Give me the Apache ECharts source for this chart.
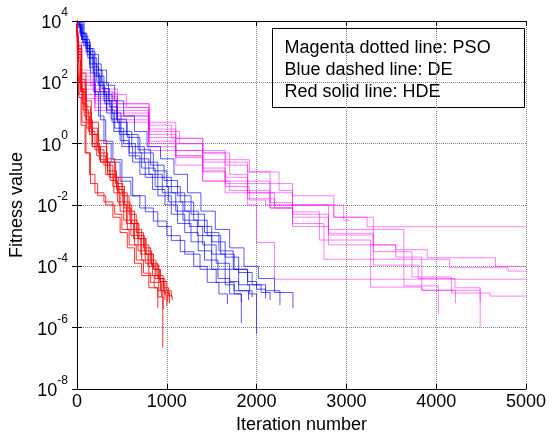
<!DOCTYPE html>
<html>
<head>
<meta charset="utf-8">
<script src="https://cdn.jsdelivr.net/npm/echarts@6/dist/echarts.min.js"></script>
<style>html,body{margin:0;padding:0;background:#fff;}#c{width:549px;height:439px;}</style>
</head>
<body>
<div id="c"></div>
<script>
// x ticks
var xTicks = [0, 1000, 2000, 3000, 4000, 5000];
// y ticks (powers of ten shown)
var yTicks = [1e-8, 1e-6, 1e-4, 1e-2, 1e0, 1e2, 1e4];
var legendLines = ['Magenta dotted line: PSO', 'Blue dashed line: DE', 'Red solid line: HDE'];

// PSO runs: [iteration, best fitness]
var psoRuns = [
  [[0,5e3],[15,6e2],[50,2e2],[150,80],[300,40],[550,15],[800,4],[1050,1.5],[1400,0.5],[1650,0.25],[1900,0.12],[2150,0.05],[2400,0.02],[2860,4e-3],[3230,1.95e-3],[5000,1.95e-3]],
  [[0,6e3],[12,8e2],[50,1.6e2],[180,50],[400,20],[810,2.5],[1140,1],[1400,0.5],[1700,0.3],[1920,0.12],[2250,0.03],[2400,0.01],[2970,3.2e-3],[3030,3e-3]],
  [[0,8e3],[10,1.5e3],[50,1e2],[200,30],[450,10],[800,1],[1100,0.6],[1400,0.3],[1700,0.1],[1900,0.05],[2150,0.008],[2400,2e-3],[2800,5e-4],[3550,3.5e-4],[3900,1.9e-4],[4660,1e-4],[5000,1e-4]],
  [[0,9e3],[15,1e3],[50,60],[200,20],[450,8],[800,1.6],[1100,0.4],[1400,0.13],[1650,0.05],[1900,0.025],[2150,0.008],[2400,2.5e-3],[2750,1.7e-4],[4150,9e-5],[4800,7e-5],[5000,7e-5]],
  [[0,7e3],[10,1.2e3],[50,30],[200,12],[450,5],[800,0.6],[1100,0.2],[1400,0.06],[1650,0.025],[1900,0.01],[2000,6e-4],[2200,3.8e-5],[5000,3.8e-5]],
  [[0,6e3],[12,1.2e3],[50,1e2],[200,35],[450,12],[800,2],[1100,0.6],[1400,0.06],[1700,0.03],[1900,0.016],[2200,8e-3],[2400,4e-3],[2800,1.2e-3],[3300,3e-4],[3730,4.5e-5],[4170,1.35e-5],[4600,1.07e-5],[5000,1.07e-5]],
  [[0,5e3],[20,7e2],[50,40],[200,15],[450,6],[800,0.8],[1100,0.35],[1400,0.16],[1650,0.06],[1900,0.025],[2200,0.01],[2400,5e-3],[2800,1.6e-3],[3640,2.3e-5],[4025,2.75e-6]],
  [[0,7e3],[18,1.2e3],[50,1.2e2],[200,45],[450,15],[800,3],[1100,1],[1400,0.25],[1650,0.08],[1900,0.03],[2150,0.012],[2400,6e-3],[2700,7.2e-4],[3270,2.1e-5],[3840,1.66e-5],[4215,6.3e-6]],
  [[0,8e3],[10,2e3],[50,2.5e2],[200,60],[450,20],[800,5],[1100,1.5],[1400,0.6],[1650,0.2],[1900,0.06],[2150,0.025],[2400,0.01],[2860,4e-3],[3300,5e-4],[3550,2e-4],[3840,1.66e-5],[4490,1e-6]],
  [[0,6e3],[20,1e3],[50,80],[200,25],[450,8],[800,1.2],[1100,0.4],[1400,0.12],[1650,0.04],[1920,0.0145],[2100,0.01],[2800,1.05e-3],[3300,1.1e-4],[3800,4e-5],[4210,2e-5],[4490,6.8e-6]]
];

// DE runs
var deRuns = [
  [[0,7.9e3],[40,4e3],[90,1.6e3],[140,300],[190,50],[240,8],[300,1],[380,0.25],[480,0.06],[600,0.02],[700,8e-3],[850,3e-3],[1000,1e-3],[1150,3e-4],[1300,1e-4],[1450,3e-5],[1580,1.26e-5],[1675,5.9e-6]],
  [[0,6.3e3],[60,2e3],[120,630],[190,160],[260,40],[330,10],[410,2.5],[500,0.8],[620,0.25],[760,0.08],[900,0.02],[1050,5e-3],[1200,1.26e-3],[1350,3.2e-4],[1500,8e-5],[1650,2.5e-5],[1750,1.26e-5],[1830,1.4e-6]],
  [[0,8.9e3],[30,4e3],[100,1.26e3],[170,320],[240,80],[310,20],[390,5],[480,1.26],[580,0.4],[700,0.1],[840,0.032],[980,0.01],[1120,2.5e-3],[1270,6.3e-4],[1420,1.6e-4],[1570,4e-5],[1700,1.26e-5],[1830,6.9e-6]],
  [[0,7e3],[50,2.5e3],[110,800],[180,200],[250,50],[330,12.6],[420,3.2],[520,1],[650,0.32],[800,0.1],[950,0.025],[1100,6.3e-3],[1250,2e-3],[1400,5e-4],[1550,1.26e-4],[1700,3.2e-5],[1800,1.6e-5],[1910,7.9e-6]],
  [[0,7.9e3],[70,1.6e3],[140,400],[220,100],[300,25],[380,6.3],[470,2],[580,0.5],[720,0.16],[870,0.04],[1020,0.0126],[1180,3.2e-3],[1340,1e-3],[1500,2.5e-4],[1650,8e-5],[1800,2.5e-5],[1920,1.26e-5],[2000,6.3e-7]],
  [[0,6.3e3],[40,3.2e3],[120,1e3],[200,250],[280,63],[360,16],[450,5],[560,1.6],[700,0.5],[850,0.13],[1000,0.04],[1150,0.0126],[1300,3.2e-3],[1450,1e-3],[1600,2.5e-4],[1750,8e-5],[1900,2.5e-5],[2050,1.4e-5],[2150,7.9e-6]],
  [[0,7.9e3],[60,2.5e3],[140,630],[220,160],[300,40],[390,10],[490,2.5],[610,0.8],[750,0.25],[900,0.08],[1050,0.025],[1200,6.3e-3],[1350,2e-3],[1500,6.3e-4],[1650,2e-4],[1800,6.3e-5],[1950,2.5e-5],[2100,1.6e-5],[2260,5.4e-6]],
  [[0,8.9e3],[80,2e3],[150,800],[240,250],[330,80],[420,25],[520,8],[640,2.5],[780,0.8],[930,0.32],[1080,0.1],[1230,0.025],[1380,6.3e-3],[1540,1.6e-3],[1700,4e-4],[1860,1e-4],[2020,4e-5],[2200,1.4e-5],[2405,4.3e-6]],
  [[0,7e3],[50,2.5e3],[100,1e3],[150,200],[200,40],[260,6],[320,1.2],[400,0.3],[500,0.08],[620,0.02],[760,6e-3],[900,2e-3],[1050,7e-4],[1200,2.5e-4],[1370,8e-5],[1550,3e-5],[1750,1.6e-5],[1950,1e-5]],
  [[0,7.9e3],[40,4e3],[110,1.26e3],[190,400],[270,100],[350,25],[440,6.3],[550,2],[680,0.63],[820,0.2],[970,0.063],[1120,0.02],[1270,5e-3],[1420,1.26e-3],[1580,3.2e-4],[1740,8e-5],[1900,3.2e-5],[2000,1.8e-5],[2100,8.9e-6]]
];

// HDE runs
var hdeRuns = [
  [[0,8e3],[10,1e3],[30,100],[60,20],[110,3.2],[170,0.8],[260,0.25],[370,0.063],[450,0.0126],[520,3.2e-3],[600,1e-3],[680,3.2e-4],[760,1.26e-4],[840,5e-5],[910,1.6e-5],[955,2.3e-7]],
  [[0,6.3e3],[15,500],[40,50],[80,8],[140,2],[220,0.4],[320,0.1],[410,0.025],[480,6.3e-3],[560,1.6e-3],[640,5e-4],[720,1.6e-4],[800,5e-5],[860,2e-5],[900,4.3e-6]],
  [[0,8.9e3],[20,1.6e3],[50,200],[100,25],[160,5],[240,1.26],[330,0.32],[420,0.08],[500,0.02],[580,5e-3],[660,1.26e-3],[740,4e-4],[820,1.26e-4],[900,4e-5],[960,1.6e-5],[1010,6.9e-6]],
  [[0,8e3],[20,800],[50,60],[100,6],[170,1],[250,0.3],[340,0.1],[440,0.032],[520,8e-3],[600,2.5e-3],[680,8e-4],[760,2.5e-4],[850,8e-5],[930,3.2e-5],[1000,1.6e-5],[1050,1e-5]],
  [[0,7e3],[12,630],[35,63],[70,12.6],[130,2.5],[200,0.63],[300,0.2],[400,0.04],[470,0.01],[550,2.5e-3],[630,8e-4],[710,2.5e-4],[790,1e-4],[870,4e-5],[930,1.6e-5],[980,7.9e-6]],
  [[0,8e3],[18,1e3],[45,126],[90,16],[150,3.2],[230,0.8],[330,0.25],[430,0.05],[510,0.0126],[590,3.2e-3],[670,1e-3],[750,3.2e-4],[830,1.1e-4],[910,4e-5],[980,1.4e-5],[1030,6.3e-6]],
  [[0,6.3e3],[8,400],[25,40],[55,5],[100,0.5],[150,0.05],[230,0.02],[320,0.01],[420,5e-3],[500,1.6e-3],[580,5e-4],[660,1.6e-4],[740,6e-5],[820,3e-5],[940,1e-5]],
  [[0,8.9e3],[22,1.26e3],[55,100],[100,10],[160,2],[240,0.5],[340,0.13],[440,0.04],[530,0.01],[610,2.5e-3],[690,8e-4],[770,2.5e-4],[850,8e-5],[920,3.2e-5],[970,1.26e-5],[1000,5e-6]],
  [[0,8e3],[20,800],[50,50],[100,5],[170,0.8],[260,0.25],[360,0.08],[460,0.025],[560,6.3e-3],[640,1.6e-3],[720,5e-4],[800,1.6e-4],[880,5e-5],[960,2e-5],[1020,1.1e-5],[1060,7.9e-6]],
  [[0,7e3],[6,320],[20,32],[45,4],[90,0.5],[140,0.1],[200,0.025],[300,0.0126],[400,4e-3],[480,1.26e-3],[560,4e-4],[640,1.26e-4],[720,5e-5],[800,2e-5],[900,1e-5],[960,4e-6]]
];

var FONT = 'Liberation Sans, Arial, sans-serif';
var series = [];
function addRuns(runs, color, opacity, width) {
  runs.forEach(function (r) {
    series.push({
      type: 'line', step: 'end', data: r, showSymbol: false, symbol: 'none',
      silent: true, animation: false, clip: true,
      lineStyle: { color: color, width: width, opacity: opacity }
    });
  });
}
addRuns(psoRuns, '#ff00ff', 0.5, 1);
addRuns(deRuns, '#0000ff', 0.65, 1);
addRuns(hdeRuns, '#ff0000', 0.8, 1);

function supLabel(v) {
  var e = Math.round(Math.log10(v));
  return '{b|10}{s|' + e + '}';
}
var richLab = {
  b: { fontSize: 18, fontFamily: FONT, color: '#000', padding: [4, 0, 0, 0] },
  s: { fontSize: 12, fontFamily: FONT, color: '#000', padding: [0, 0, 16, 0] }
};

var chart = echarts.init(document.getElementById('c'), null, { renderer: 'canvas' });
chart.setOption({
  backgroundColor: '#fff',
  animation: false,
  grid: { left: 77, right: 21, top: 21, bottom: 50, show: false },
  xAxis: [{
    type: 'value', min: xTicks[0], max: xTicks[xTicks.length - 1], interval: 1000,
    name: 'Iteration number', nameLocation: 'middle', nameGap: 25,
    nameTextStyle: { fontSize: 18, fontFamily: FONT, color: '#000' },
    axisLine: { show: true, lineStyle: { color: '#000', width: 1 } },
    axisTick: { show: true, inside: true, length: 5, lineStyle: { color: '#000' } },
    axisLabel: { fontSize: 18, fontFamily: FONT, color: '#000', margin: 4, formatter: function (v) { return String(v); } },
    splitLine: { show: true, lineStyle: { color: '#888', type: 'dotted', width: 1 } }
  }, {
    type: 'value', position: 'top', min: xTicks[0], max: xTicks[xTicks.length - 1], interval: 1000,
    axisLine: { show: true, lineStyle: { color: '#000', width: 1 } },
    axisTick: { show: true, inside: true, length: 5, lineStyle: { color: '#000' } },
    axisLabel: { show: false }, splitLine: { show: false }
  }],
  yAxis: [{
    type: 'log', logBase: 10, min: yTicks[0], max: yTicks[yTicks.length - 1], interval: 2,
    name: 'Fitness value', nameLocation: 'middle', nameGap: 50, nameRotate: 90,
    nameTextStyle: { fontSize: 18, fontFamily: FONT, color: '#000' },
    axisLine: { show: true, lineStyle: { color: '#000', width: 1 } },
    axisTick: { show: true, inside: true, length: 5, lineStyle: { color: '#000' } },
    minorTick: { show: false },
    axisLabel: { formatter: supLabel, rich: richLab, margin: 9 },
    splitLine: { show: true, lineStyle: { color: '#888', type: 'dotted', width: 1 } }
  }, {
    type: 'log', logBase: 10, position: 'right', min: yTicks[0], max: yTicks[yTicks.length - 1], interval: 2,
    axisLine: { show: true, lineStyle: { color: '#000', width: 1 } },
    axisTick: { show: true, inside: true, length: 5, lineStyle: { color: '#000' } },
    axisLabel: { show: false }, splitLine: { show: false }
  }],
  graphic: [{
    type: 'group', left: 272, top: 28, z: 100,
    children: [
      { type: 'rect', shape: { x: 0, y: 0, width: 252, height: 79 }, style: { fill: '#fff', stroke: '#000', lineWidth: 1 } },
      { type: 'text', x: 12, y: 20, style: { text: legendLines[0], font: '18px ' + FONT, fill: '#000', textVerticalAlign: 'middle' } },
      { type: 'text', x: 12, y: 42, style: { text: legendLines[1], font: '18px ' + FONT, fill: '#000', textVerticalAlign: 'middle' } },
      { type: 'text', x: 12, y: 64, style: { text: legendLines[2], font: '18px ' + FONT, fill: '#000', textVerticalAlign: 'middle' } }
    ]
  }],
  series: series
});
</script>
</body>
</html>
